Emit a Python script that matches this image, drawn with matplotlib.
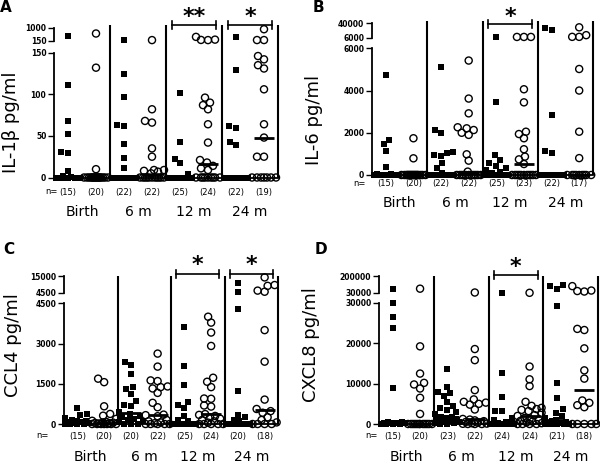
import numpy as np
import matplotlib
matplotlib.use("Agg")
import matplotlib.pyplot as plt
from matplotlib.lines import Line2D

W, H = 600, 466

group_names = ["Birth", "6 m", "12 m", "24 m"]

# values per group: birth(filled, open), 6 m, 12 m, 24 m
il1b = [
    [450, 111, 68, 52, 31, 29, 8, 2, 1, 0, 0, 0, 0, 0, 0],
    [620, 132, 10] + [0] * 17,
    [190, 125, 97, 63, 62, 40, 24, 12] + [0] * 14,
    [190, 82, 68, 66, 35, 25, 9, 9, 8, 7, 5] + [0] * 11,
    [101, 43, 22, 17, 4] + [0] * 20,
    [400, 220, 200, 190, 96, 90, 87, 82, 64, 42, 21, 18, 14, 11, 9] + [0] * 9,
    [400, 129, 62, 60, 43, 39] + [0] * 16,
    [900, 193, 193, 146, 142, 135, 131, 106, 64, 48, 25, 25] + [0] * 7,
]
il6 = [
    [4740, 1660, 1450, 1150, 395, 60, 40, 20] + [0] * 7,
    [1740, 790] + [0] * 18,
    [5100, 2130, 1970, 1100, 1030, 950, 900, 550, 315, 100] + [0] * 12,
    [5420, 3620, 2920, 2260, 2210, 2130, 2000, 1900, 980, 680, 160] + [0] * 11,
    [7800, 3470, 930, 710, 550, 440, 320, 250, 160, 100] + [0] * 15,
    [7800, 7800, 7800, 4060, 3440, 2050, 1940, 1740, 1220, 870, 740, 520] + [0] * 11,
    [29700, 24200, 2840, 1140, 1060] + [0] * 17,
    [30500, 12000, 8000, 8000, 5020, 4000, 2050, 800] + [0] * 9,
]
ccl4 = [
    [600, 380, 350, 220, 160, 120, 100, 80, 60, 40, 20, 0, 0, 0, 0],
    [1690, 1560, 660, 375, 310, 190, 120, 80, 60, 50, 40, 30, 20] + [0] * 7,
    [2310, 2190, 1875, 1380, 1290, 1100, 850, 700, 660, 450, 370, 300, 250,
     200, 150, 100, 60, 0, 0, 0],
    [2625, 2140, 1625, 1600, 1400, 1375, 1325, 1160, 790, 625, 350, 330, 290,
     150, 100, 60, 30, 0, 0, 0, 0, 0],
    [3600, 2160, 1450, 810, 725, 600, 310, 160, 100] + [0] * 16,
    [4000, 3780, 3410, 2910, 1725, 1575, 1375, 950, 940, 690, 650, 370, 340,
     300, 250, 200, 150, 100, 50] + [0] * 5,
    [10500, 5100, 4290, 1225, 350, 250, 150, 100] + [0] * 12,
    [14300, 9500, 9000, 6000, 5300, 3500, 2325, 910, 560, 480, 420, 250, 150, 60] + [0] * 4,
]
cxcl8 = [
    [68000, 30000, 26500, 23800, 9000, 500, 400, 300, 250, 200, 150, 100, 50, 0, 0],
    [74000, 19250, 12500, 10200, 9800, 8800, 6500, 2500] + [0] * 12,
    [13580, 9250, 8000, 7800, 7000, 5500, 4500, 4000, 3500, 3000, 2500, 1800,
     1700, 1500, 1200, 1000, 800, 600, 400, 300, 200, 100, 0],
    [35000, 18580, 15830, 8400, 6100, 5500, 5300, 5000, 4800, 3600, 1250, 1100,
     900, 700, 500, 350, 200, 100, 50, 0, 0, 0],
    [35000, 12750, 6750, 3330, 3170, 1500, 1000, 500, 300] + [0] * 15,
    [32000, 14250, 11080, 9400, 5500, 4500, 4000, 3700, 3500, 3200, 2800, 2200,
     2000, 1500, 1200, 1000, 800, 600, 400, 200, 0, 0, 0, 0],
    [110000, 100000, 75000, 29150, 10250, 6500, 3600, 2750, 2000, 1500, 1000,
     800, 500, 300, 200, 100, 0, 0, 0, 0, 0],
    [100000, 55000, 50000, 45000, 23580, 23300, 18750, 13300, 11250, 5830, 5250,
     4660, 4170, 0, 0, 0, 0, 0],
]

# y ticks: lower segment, then the segment above the break
il1b_ticks, il1b_upper = [0, 50, 100, 150], [150, 1000]
il6_ticks, il6_upper = [0, 2000, 4000, 6000], [6000, 40000]
ccl4_ticks, ccl4_upper = [0, 1500, 3000, 4500], [4500, 15000]
cxcl8_ticks, cxcl8_upper = [0, 10000, 20000, 30000], [30000, 200000]


def make_scale(L, U, lo_px, gap_px, up_px):
    # broken axis: linear up to L, gap, then compressed L..U
    def fwd(v):
        v = np.asarray(v, dtype=float)
        return np.where(v <= L, v / L * lo_px,
                        lo_px + gap_px + (v - L) / (U - L) * up_px)

    def inv(y):
        y = np.asarray(y, dtype=float)
        lower = y / lo_px * L
        upper = L + (y - lo_px - gap_px) / up_px * (U - L)
        return np.where(y <= lo_px, lower,
                        np.where(y < lo_px + gap_px, L, upper))
    return fwd, inv


def swarm(ypix, d=6.5, maxw=12.0, step=1.0):
    cands = np.arange(-maxw, maxw + 1e-9, step)
    cands = cands[np.argsort(np.abs(cands), kind="stable")]
    px, py = [], []
    out = np.zeros(len(ypix))
    for i in np.argsort(ypix, kind="stable"):
        y = ypix[i]
        best, best_d = 0.0, -1.0
        for c in cands:
            dist = np.min(np.hypot(np.array(px) - c, np.array(py) - y)) if px else np.inf
            if dist >= d:
                best = c
                break
            if dist > best_d + 1e-9:
                best_d, best = dist, c
        out[i] = best
        px.append(best)
        py.append(y)
    return out


fig = plt.figure(figsize=(W / 100, H / 100), dpi=100)


def fx(p):
    return p / W


def fy(p):
    return 1 - p / H


def draw_panel(values, ylabel, letter, lo_ticks, up_ticks, box, seg, lay):
    l, r, t, b = box
    L, U = lo_ticks[-1], up_ticks[-1]
    fwd, inv = make_scale(L, U, *seg)
    ax = fig.add_axes([fx(l), fy(b), (r - l) / W, (b - t) / H])
    ax.set_yscale("function", functions=(fwd, inv))
    ax.set_xlim(0, 8)
    ax.set_ylim(0, float(inv(b - t)))

    eps = L * 1e-6
    ax.set_yticks(lo_ticks + [L + eps] + up_ticks[1:])
    ax.set_yticklabels([str(v) for v in lo_ticks + up_ticks],
                       fontsize=5.5, fontweight="bold")
    ax.tick_params(axis="y", length=4, width=1, pad=1.5)
    ax.set_xticks([])
    for s in ("left", "top", "right"):
        ax.spines[s].set_visible(False)
    ax.spines["bottom"].set_linewidth(1.3)

    ytr = ax.get_yaxis_transform()
    ax.plot([0, 0], [0, L], color="black", lw=1.3, transform=ytr, clip_on=False)
    ax.plot([0, 0], [L + eps, U], color="black", lw=1.3, transform=ytr, clip_on=False)
    ax.vlines([2, 4, 6, 8], 0, 1, transform=ax.get_xaxis_transform(),
              colors="black", lw=1.5, clip_on=False)

    ppx = (r - l) / 8.0
    for gi, vals in enumerate(values):
        vals = np.asarray(vals, dtype=float)
        xc = gi + 0.5
        ypix = ax.transData.transform(np.column_stack([np.full(len(vals), xc), vals]))[:, 1]
        xs = xc + swarm(ypix) / ppx
        if gi % 2 == 0:
            ax.scatter(xs, vals, marker="s", s=22, color="black", linewidths=0,
                       clip_on=False, zorder=3)
        else:
            ax.scatter(xs, vals, marker="o", s=26, facecolors="none",
                       edgecolors="black", linewidths=1.0, clip_on=False, zorder=3)
        ax.hlines(np.median(vals), xc - 10 / ppx, xc + 10 / ppx, colors="black",
                  lw=2, zorder=4, clip_on=False)
        ax.annotate(f"({len(vals)})", xy=(xc, 0), xycoords=("data", "axes fraction"),
                    xytext=(0, -(lay["n_y"] - b) * 0.72), textcoords="offset points",
                    ha="center", va="center", fontsize=6)
    for k, name in enumerate(group_names):
        ax.annotate(name, xy=(2 * k + 1, 0), xycoords=("data", "axes fraction"),
                    xytext=(0, -(lay["grp_y"] - b) * 0.72), textcoords="offset points",
                    ha="center", va="center", fontsize=10)
    fig.text(fx(lay["n_x"]), fy(lay["n_y"]), "n=", ha="center", va="center", fontsize=6)
    fig.text(fx(lay["ylab"][0]), fy(lay["ylab"][1]), ylabel, rotation=90,
             ha="center", va="center", fontsize=13)
    fig.text(fx(lay["letter"][0]), fy(lay["letter"][1]), letter, ha="center",
             va="center", fontsize=11, fontweight="bold")

    for sec, stars in lay["sig"]:
        x0 = l + (2 * sec + 0.2) * ppx
        x1 = l + (2 * sec + 1.8) * ppx
        yb = lay["br_y"]
        fig.add_artist(Line2D([fx(x0), fx(x1)], [fy(yb), fy(yb)], color="black", lw=1.2))
        for xe in (x0, x1):
            fig.add_artist(Line2D([fx(xe), fx(xe)], [fy(yb - 4), fy(yb + 4)],
                                  color="black", lw=1.2))
        fig.text(fx((x0 + x1) / 2), fy(lay["star_y"]), stars, ha="center",
                 va="center", fontsize=16, fontweight="bold")
    return ax


draw_panel(il1b, "IL-1β pg/ml", "A", il1b_ticks, il1b_upper,
           (54, 278, 25, 177.5), (124.8, 12, 13),
           dict(n_y=192, grp_y=212, n_x=51, ylab=(11, 122), letter=(6, 8),
                sig=[(2, "**"), (3, "*")], br_y=25, star_y=17))
draw_panel(il6, "IL-6 pg/ml", "B", il6_ticks, il6_upper,
           (372, 593, 21, 175), (126.7, 10.6, 14.4),
           dict(n_y=184, grp_y=203, n_x=359, ylab=(314, 120), letter=(318, 8),
                sig=[(2, "*")], br_y=24, star_y=17))
draw_panel(ccl4, "CCL4 pg/ml", "C", ccl4_ticks, ccl4_upper,
           (64, 278, 276, 424), (120.7, 10.3, 16.7),
           dict(n_y=436, grp_y=457, n_x=42, ylab=(13, 345), letter=(9, 250),
                sig=[(2, "*"), (3, "*")], br_y=274, star_y=265))
draw_panel(cxcl8, "CXCL8 pg/ml", "D", cxcl8_ticks, cxcl8_upper,
           (379, 598, 276, 424), (121, 10, 16.7),
           dict(n_y=436, grp_y=457, n_x=371, ylab=(311, 345), letter=(321, 249),
                sig=[(2, "*")], br_y=275, star_y=267))

fig.savefig("out.png", dpi=100)
